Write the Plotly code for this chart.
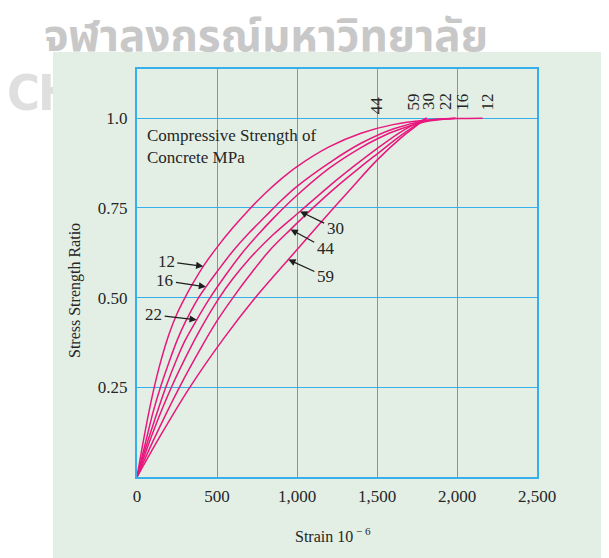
import plotly.graph_objects as go

# ---------------- data ----------------
strain_12 = [0, 50, 100, 150, 200, 250, 300, 350, 414, 500, 600, 700, 800, 900, 1000, 1200, 1400, 1600, 1800, 2000, 2160]
ratio_12 = [0, 0.125, 0.235, 0.325, 0.398, 0.455, 0.50, 0.54, 0.587, 0.64, 0.695, 0.745, 0.79, 0.83, 0.865, 0.92, 0.958, 0.982, 0.994, 0.999, 1.0]

strain_16 = [0, 50, 100, 150, 200, 250, 300, 385, 431, 500, 600, 700, 800, 900, 1000, 1200, 1400, 1600, 1800, 1990]
ratio_16 = [0, 0.09, 0.18, 0.255, 0.32, 0.38, 0.43, 0.50, 0.53, 0.572, 0.63, 0.68, 0.725, 0.77, 0.81, 0.875, 0.93, 0.97, 0.993, 1.0]

strain_22 = [0, 50, 100, 180, 250, 300, 373, 450, 550, 650, 750, 850, 1000, 1200, 1400, 1500, 1600, 1800, 1990]
ratio_22 = [0, 0.075, 0.145, 0.25, 0.33, 0.38, 0.438, 0.495, 0.56, 0.62, 0.672, 0.72, 0.785, 0.86, 0.918, 0.942, 0.962, 0.99, 1.0]

strain_30 = [0, 100, 215, 300, 400, 515, 600, 700, 850, 1019, 1200, 1350, 1500, 1650, 1810]
ratio_30 = [0, 0.125, 0.25, 0.33, 0.415, 0.50, 0.553, 0.607, 0.675, 0.74, 0.81, 0.864, 0.915, 0.962, 1.0]

strain_44 = [0, 100, 265, 400, 500, 600, 700, 830, 960, 1100, 1250, 1400, 1500, 1650, 1810]
ratio_44 = [0, 0.10, 0.25, 0.36, 0.435, 0.50, 0.56, 0.632, 0.69, 0.75, 0.81, 0.865, 0.90, 0.952, 1.0]

strain_59 = [0, 150, 330, 540, 740, 946, 1150, 1330, 1500, 1650, 1810]
ratio_59 = [0, 0.118, 0.25, 0.385, 0.50, 0.606, 0.71, 0.80, 0.883, 0.945, 1.0]

series_names = ["12", "16", "22", "30", "44", "59"]
series_strain = [strain_12, strain_16, strain_22, strain_30, strain_44, strain_59]
series_ratio = [ratio_12, ratio_16, ratio_22, ratio_30, ratio_44, ratio_59]

x_tickvals = [0, 500, 1000, 1500, 2000, 2500]
x_ticktext = ["0", "500", "1,000", "1,500", "2,000", "2,500"]
y_tickvals = [0.25, 0.5, 0.75, 1.0]
y_ticktext = ["0.25", "0.50", "0.75", "1.0"]

# arrow labels: (text, head strain, head ratio, ax, ay)
arrow_labels = [
    ("12", 414, 0.587, -37, -5),
    ("16", 431, 0.530, -41, -6),
    ("22", 373, 0.438, -43, -5),
    ("30", 1019, 0.740, 35, 17),
    ("44", 960, 0.690, 35, 19),
    ("59", 946, 0.606, 37, 17),
]
# rotated labels at top: (text, strain position, ratio position)
top_labels = [
    ("44", 1502, 1.037),
    ("59", 1722, 1.045),
    ("30", 1819, 1.045),
    ("22", 1925, 1.045),
    ("16", 2029, 1.045),
    ("12", 2185, 1.045),
]

# ---------------- styles ----------------
PINK = "#e8177d"
GRID = "#36b0ea"
GREEN = "#e3efe4"
TXT = "#262626"
SERIF = "Liberation Serif, Times New Roman, serif"


def px(sx):
    # screenshot x pixel -> paper x
    return (sx - 137) / 400.0


def py(sy):
    # screenshot y pixel -> paper y
    return (477 - sy) / 408.0


fig = go.Figure()

for name, xs, ys in zip(series_names, series_strain, series_ratio):
    fig.add_trace(go.Scatter(
        x=xs, y=ys, mode="lines", name=name,
        line=dict(color=PINK, width=1.5, shape="spline", smoothing=0.9),
        showlegend=False, hoverinfo="skip"))

shapes = [
    # green panel
    dict(type="rect", xref="paper", yref="paper", x0=px(53), x1=px(700), y0=py(700), y1=py(52),
         fillcolor=GREEN, line=dict(width=0), layer="below"),
]

annotations = []
# watermark texts (partly hidden by the green panel)
annotations.append(dict(
    x=px(266), y=py(37), xref="paper", yref="paper", xanchor="center", yanchor="middle",
    text="จุฬาลงกรณ์มหาวิทยาลัย", showarrow=False,
    font=dict(family="Noto Sans Thai, Loma, Garuda, Noto Sans, DejaVu Sans, sans-serif",
              size=44, color="#c8c8c8", weight="bold")))
annotations.append(dict(
    x=px(23), y=py(93), xref="paper", yref="paper", xanchor="center", yanchor="middle",
    text="C", showarrow=False,
    font=dict(family="Liberation Sans Narrow, DejaVu Sans Condensed, sans-serif",
              size=50, color="#dfdfdf", weight="bold")))
annotations.append(dict(
    x=px(36), y=py(93), xref="paper", yref="paper", xanchor="left", yanchor="middle",
    text="H", showarrow=False,
    font=dict(family="Liberation Sans Narrow, DejaVu Sans Condensed, sans-serif",
              size=50, color="#dfdfdf", weight="bold")))
# green patches that continue the panel over the watermark
annotations.append(dict(
    x=px(53), y=py(52), xref="paper", yref="paper", xanchor="left", yanchor="top",
    text=".", showarrow=False, width=47, height=80, bgcolor=GREEN, borderpad=0, borderwidth=0,
    font=dict(size=10, color=GREEN)))
annotations.append(dict(
    x=px(53), y=py(52), xref="paper", yref="paper", xanchor="left", yanchor="top",
    text=".", showarrow=False, width=570, height=14, bgcolor=GREEN, borderpad=0, borderwidth=0,
    font=dict(size=10, color=GREEN)))

for t, xh, yh, ax, ay in arrow_labels:
    annotations.append(dict(
        x=xh, y=yh, xref="x", yref="y", text=t, showarrow=True,
        ax=ax, ay=ay, arrowhead=2, arrowsize=1.1, arrowwidth=1.3,
        arrowcolor="#1e1e1e", standoff=0, startstandoff=1,
        font=dict(family=SERIF, size=17, color=TXT)))
for t, xp, yp in top_labels:
    annotations.append(dict(
        x=xp, y=yp, xref="x", yref="y", text=t, showarrow=False, textangle=-90,
        xanchor="center", yanchor="middle",
        font=dict(family=SERIF, size=17, color=TXT)))

annotations.append(dict(
    x=px(145), y=py(146.5), xref="paper", yref="paper", xanchor="left", yanchor="middle",
    text="Compressive Strength of<br>Concrete MPa", showarrow=False, align="left",
    font=dict(family=SERIF, size=17, color=TXT)))
annotations.append(dict(
    x=px(75), y=py(291), xref="paper", yref="paper", xanchor="center", yanchor="middle",
    text="Stress Strength Ratio", textangle=-90, showarrow=False,
    font=dict(family=SERIF, size=16, color=TXT)))
annotations.append(dict(
    x=px(333), y=py(535), xref="paper", yref="paper", xanchor="center", yanchor="middle",
    text="Strain 10<sup> − 6</sup>", showarrow=False,
    font=dict(family=SERIF, size=16, color=TXT)))

fig.update_layout(
    width=609, height=558,
    margin=dict(l=129, r=80, t=61, b=89, pad=0),
    paper_bgcolor="white", plot_bgcolor=GREEN,
    showlegend=False,
    shapes=shapes, annotations=annotations,
    xaxis=dict(range=[0, 2500], tickvals=x_tickvals, ticktext=x_ticktext,
               showgrid=True, gridcolor=GRID, gridwidth=1.3, zeroline=False,
               showline=True, linecolor=GRID, linewidth=2, mirror=True,
               ticks="outside", ticklen=3, tickcolor="rgba(0,0,0,0)",
               tickfont=dict(family=SERIF, size=17, color=TXT)),
    yaxis=dict(range=[0, 1.137], tickvals=y_tickvals, ticktext=y_ticktext,
               showgrid=True, gridcolor=GRID, gridwidth=1.3, zeroline=False,
               showline=True, linecolor=GRID, linewidth=2, mirror=True,
               ticks="outside", ticklen=4, tickcolor="rgba(0,0,0,0)",
               tickfont=dict(family=SERIF, size=17, color=TXT)),
)

fig.write_html("out.html")
